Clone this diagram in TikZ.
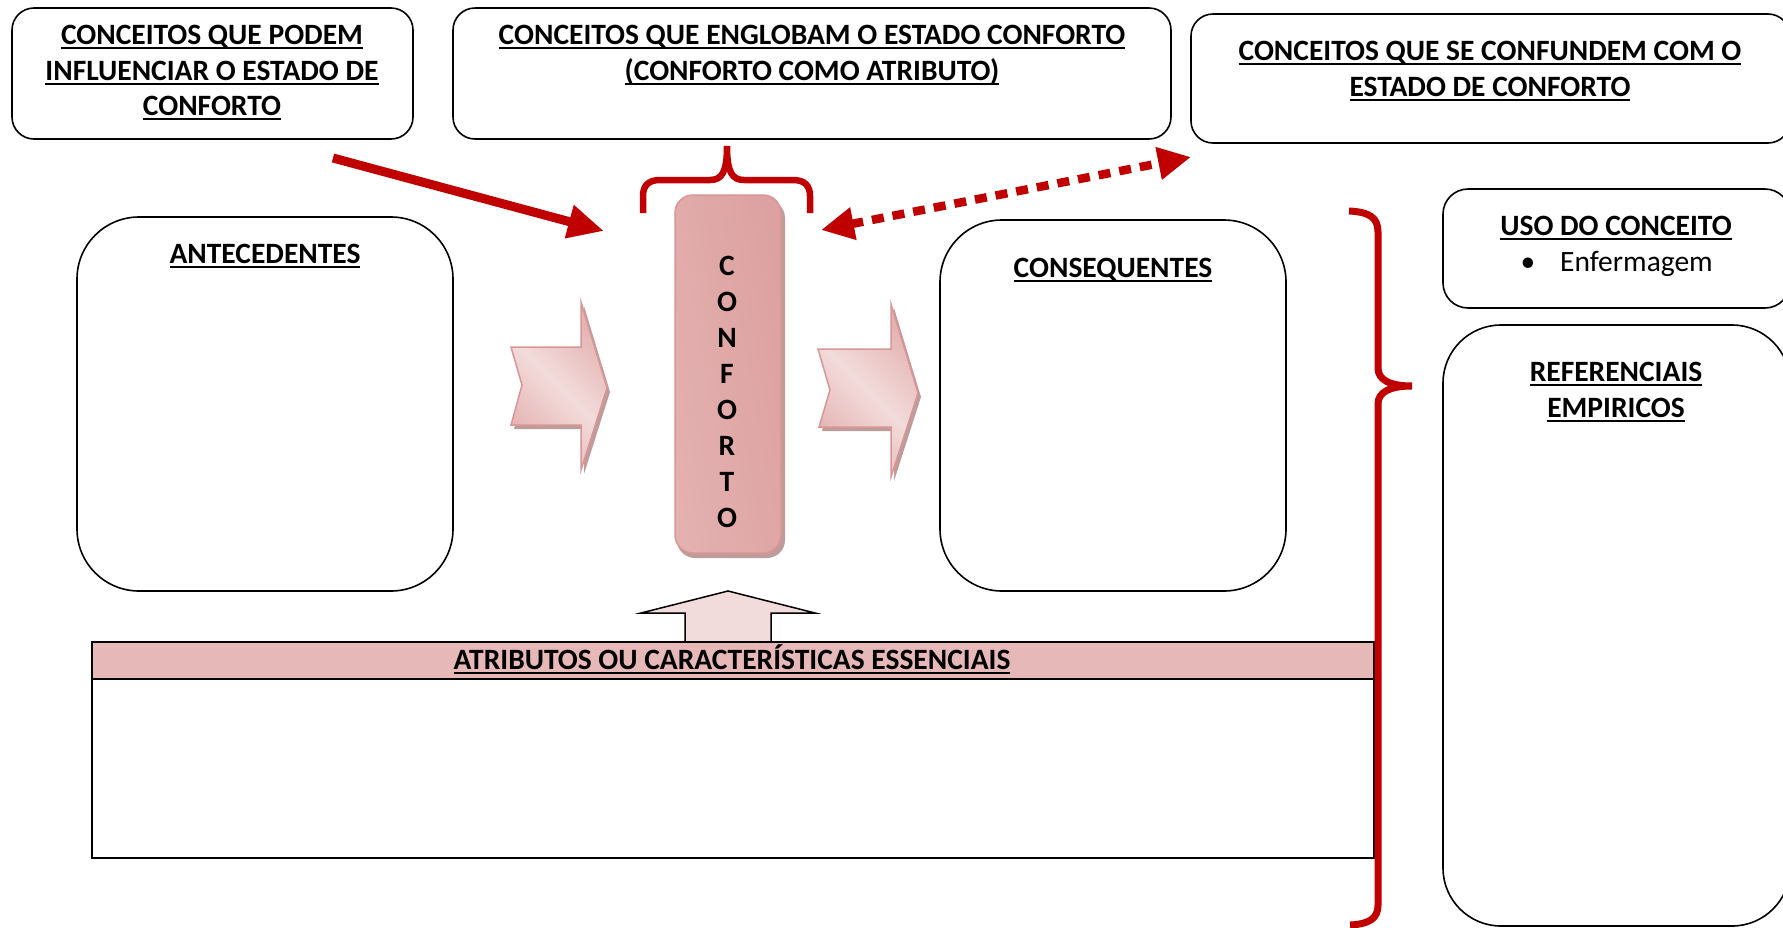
\documentclass[tikz,border=0pt]{standalone}
\usepackage{fontspec}
\setmainfont{Carlito}
\usetikzlibrary{arrows.meta}
\definecolor{cred}{HTML}{C00000}
\definecolor{pinkL}{HTML}{F2DCDB}
\definecolor{pinkM}{HTML}{E3B1B0}
\definecolor{pinkD}{HTML}{D99694}
\definecolor{pinkR}{HTML}{DCA1A0}
\definecolor{shad}{HTML}{BE9C9C}
\definecolor{hdr}{HTML}{E6B8B7}
\newcommand\myul[1]{\setbox0\hbox{#1}\rlap{\rule[-5pt]{\wd0}{2pt}}\box0}
\begin{document}
\begin{tikzpicture}[x=1pt,y=-1pt,
  box/.style={draw=black, line width=1.6pt, rectangle, inner sep=0pt},
  hd/.style={anchor=base, inner sep=0pt, font=\bfseries\fontsize{29.5}{36}\selectfont},
  tx/.style={anchor=base, inner sep=0pt, font=\fontsize{29.5}{36}\selectfont},
  blockar/.style={draw=pinkD, line width=1.5pt, left color=pinkM, right color=pinkM, middle color=pinkL, shading angle=135},
  redline/.style={draw=cred, line width=6.5pt},
]
\clip (0,0) rectangle (1783,927);
\fill[white] (0,0) rectangle (1783,927);

% top boxes
\node[box, rounded corners=22pt, minimum width=401pt, minimum height=131pt] (b1) at (212.5,73.5) {};
\node[box, rounded corners=22pt, minimum width=718pt, minimum height=131pt] (b2) at (812,73.5) {};
\node[box, rounded corners=22pt, minimum width=599pt, minimum height=129pt] (b3) at (1490.5,78.5) {};
\node[hd] (t1a) at (212,44) {\myul{CONCEITOS QUE PODEM}};
\node[hd] (t1b) at (212,80) {\myul{INFLUENCIAR O ESTADO DE}};
\node[hd] (t1c) at (212,115) {\myul{CONFORTO}};
\node[hd] (t2a) at (812,44) {\myul{CONCEITOS QUE ENGLOBAM O ESTADO CONFORTO}};
\node[hd] (t2b) at (812,80) {\myul{(CONFORTO COMO ATRIBUTO)}};
\node[hd] (t3a) at (1490,60) {\myul{CONCEITOS QUE SE CONFUNDEM COM O}};
\node[hd] (t3b) at (1490,96) {\myul{ESTADO DE CONFORTO}};

% middle boxes
\node[box, rounded corners=62pt, minimum width=376pt, minimum height=374pt] (ant) at (265,404) {};
\node[hd] (tant) at (265,263) {\myul{ANTECEDENTES}};
\node[box, rounded corners=62pt, minimum width=346pt, minimum height=371pt] (cons) at (1113,405.5) {};
\node[hd] (tcons) at (1113,277) {\myul{CONSEQUENTES}};

% right boxes
\node[box, rounded corners=25pt, minimum width=347pt, minimum height=119pt] (uso) at (1616.5,248.5) {};
\node[hd] (tuso) at (1616,235) {\myul{USO DO CONCEITO}};
\node[tx] (bul) at (1528,271) {•};
\node[tx, anchor=base west] (tenf) at (1560,271) {Enfermagem};
\node[box, rounded corners=58pt, minimum width=347pt, minimum height=601pt] (ref) at (1616.5,625.5) {};
\node[hd] (tref1) at (1616,381) {\myul{REFERENCIAIS}};
\node[hd] (tref2) at (1616,417) {\myul{EMPIRICOS}};

% block arrows
\begin{scope}[shift={(3,4)}]
\fill[shad] (511,347) -- (581,347) -- (581,302) -- (607,388) -- (581,470) -- (581,425) -- (511,425) -- (522,385) -- cycle;
\fill[shad] (818,349) -- (891,349) -- (891,304) -- (918,393) -- (891,477) -- (891,427) -- (819,427) -- (830,390) -- cycle;
\end{scope}
\path[blockar] (511,347) -- (581,347) -- (581,302) -- (607,388) -- (581,470) -- (581,425) -- (511,425) -- (522,385) -- cycle;
\path[blockar] (818,349) -- (891,349) -- (891,304) -- (918,393) -- (891,477) -- (891,427) -- (819,427) -- (830,390) -- cycle;

% conforto
\fill[shad, rounded corners=18pt] (677,200) rectangle (785,558);
\node[draw=pinkD, line width=1.5pt, rectangle, rounded corners=18pt, minimum width=106pt, minimum height=358pt,
  left color=pinkM, middle color=pinkL, right color=pinkR, shading angle=100] (conf) at (728,374) {};
\foreach \l [count=\i] in {C,O,N,F,O,R,T,O}
  \node[hd] (cl\i) at (727,239+36*\i) {\l};

% brace over conforto
\draw[redline, line join=miter] (643,213) -- (643,196) .. controls (643,186) and (648,180) .. (660,180) -- (710,180)
  .. controls (722,180) and (727,172) .. (727,146) .. controls (727,172) and (732,180) .. (744,180) -- (793,180)
  .. controls (805,180) and (810,186) .. (810,196) -- (810,213);

% up arrow and table
\draw[fill=pinkL, line width=1.5pt] (685,645) -- (685,613) -- (641,613) -- (728,591) -- (815,613) -- (771,613) -- (771,645);
\node[box, line width=2pt, fill=hdr, anchor=north west, minimum width=1282pt, minimum height=37pt] (hdr) at (91,641) {};
\node[box, line width=2pt, fill=white, anchor=north west, minimum width=1282pt, minimum height=179pt] (body) at (91,678) {};
\node[hd] (thdr) at (732,669) {\myul{ATRIBUTOS OU CARACTERÍSTICAS ESSENCIAIS}};

% big brace
\draw[redline, line width=7pt] (1349,211) .. controls (1370,212) and (1378,218) .. (1378,232) -- (1378,368)
  .. controls (1378,380) and (1390,386) .. (1412,386) .. controls (1390,386) and (1378,392) .. (1378,404)
  -- (1378,905) .. controls (1378,918) and (1370,924) .. (1350,925);

% red arrows
\coordinate (a1s) at (333,158);
\coordinate (a1e) at (604,231);
\draw[cred, line width=9pt, -{Triangle[length=36pt,width=32pt]}] (a1s) -- (a1e);
\coordinate (a2s) at (821,230);
\coordinate (a2e) at (1191,157);
\draw[cred, line width=8.5pt, dash pattern=on 12pt off 9pt,
  {Triangle[length=33pt,width=31pt]}-{Triangle[length=33pt,width=31pt]}] (a2s) -- (a2e);
\end{tikzpicture}
\end{document}
